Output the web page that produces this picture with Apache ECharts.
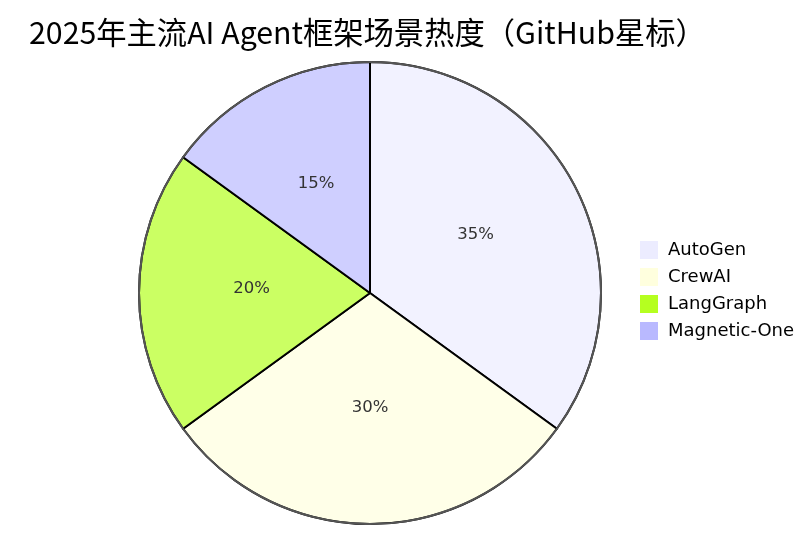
<!DOCTYPE html>
<html><head><meta charset="utf-8">
<script src="https://cdn.jsdelivr.net/npm/echarts@6/dist/echarts.min.js"></script>
<style>html,body{margin:0;padding:0;background:#fff}#c{width:807px;height:538px}</style>
</head><body><div id="c"></div>
<script>
const titleText = '2025年主流AI Agent框架场景热度（GitHub星标）';
const categories = ['AutoGen', 'CrewAI', 'LangGraph', 'Magnetic-One'];
const values = [35, 30, 20, 15];
const legendColors = ['#ECECFF', '#FFFFDE', '#B5FF20', '#B9B9FF'];
const sliceColors = ['#F2F2FF', '#FFFFE8', '#CBFF63', '#CFCFFF'];

const font = '"DejaVu Sans", "Noto Sans CJK SC", sans-serif';
const chart = echarts.init(document.getElementById('c'));
chart.setOption({
  animation: false,
  title: {
    text: titleText, left: 29, top: 17, padding: 0,
    textStyle: { fontFamily: '"Noto Sans CJK SC", sans-serif', fontSize: 30.3, fontWeight: 'normal', color: '#000' }
  },
  legend: {
    orient: 'vertical', left: 640, top: 241, padding: 0,
    itemWidth: 18, itemHeight: 18, itemGap: 9, icon: 'rect',
    textStyle: { fontFamily: font, fontSize: 18, color: '#000', padding: [0, 0, 0, 5] },
    data: categories.map((n, i) => ({ name: n, itemStyle: { color: legendColors[i], borderWidth: 0 } }))
  },
  series: [{
    type: 'pie', center: [370, 293], radius: [0, 231], startAngle: 90, clockwise: true,
    silent: true,
    label: { position: 'inside', formatter: p => p.value + '%', fontFamily: font, fontSize: 16.5, color: '#333', offset: [0, -4] },
    labelLine: { show: false },
    itemStyle: { borderColor: '#000', borderWidth: 2 },
    data: categories.map((n, i) => ({ name: n, value: values[i], itemStyle: { color: sliceColors[i] } }))
  }, {
    type: 'pie', center: [370, 293], radius: [230, 232], startAngle: 90, silent: true,
    label: { show: false }, labelLine: { show: false },
    itemStyle: { color: '#555', borderWidth: 0 },
    data: values.map((v, i) => ({ name: 'ring' + i, value: v }))
  }]
});
</script></body></html>
